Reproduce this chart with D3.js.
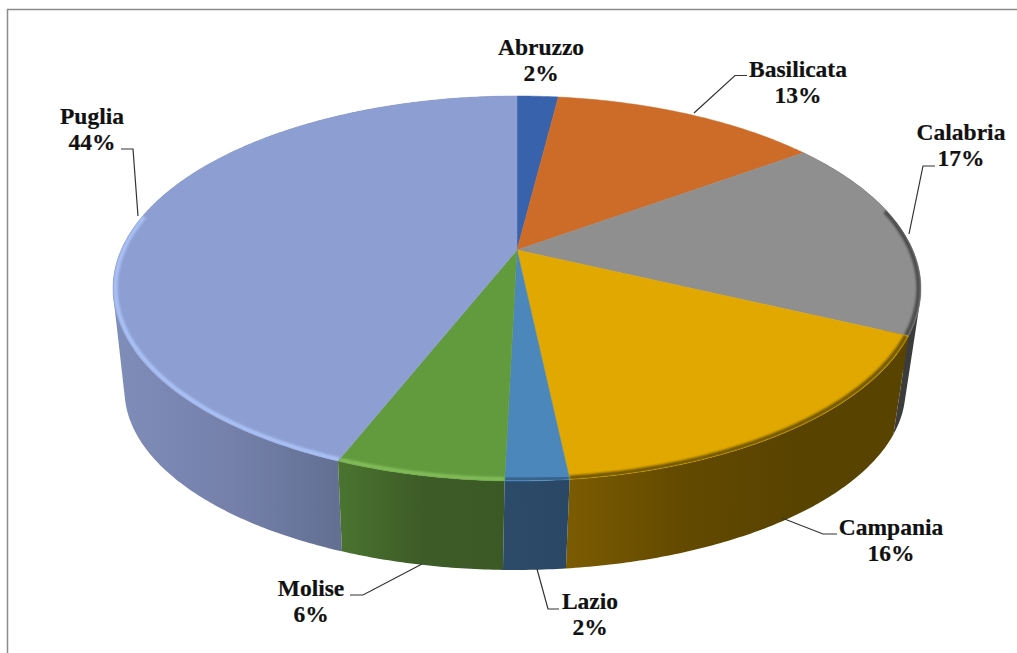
<!DOCTYPE html>
<html>
<head>
<meta charset="utf-8">
<script src="https://cdn.jsdelivr.net/npm/d3@7"></script>
<style>
  body { margin: 0; background: #fff; }
  text { font-family: "Liberation Serif", serif; font-weight: bold; font-size: 23.5px; fill: #111; stroke: #111; stroke-width: 0.2px; text-anchor: middle; }
</style>
</head>
<body>
<script>
//Chart values (labels round them to whole percents)
const regions = ["Abruzzo", "Basilicata", "Calabria", "Campania", "Lazio", "Molise", "Puglia"];
const shares = [2, 13, 17, 16.3, 2.1, 5.6, 44];

//Colours of the top face, the rim bevel and the side wall
const topColors = ["#3862ac", "#cd6c28", "#8f8f8f", "#e0a800", "#4c87bb", "#629a3e", "#8d9fd2"];
const bevelColors = [null, null, "#4a4a4a", "#6e5400", "#345f86", "#82bd58", "#abc2f7"];
const wallColors = [
    null,
    null,
    ["#454545", "#3a3a3a"],
    ["#7c5c02", "#634a00", "#584300", "#584300"],
    ["#2c4b68", "#2a4865"],
    ["#4b7430", "#3d5c27", "#3b5925"],
    ["#7f8db9", "#7581ab", "#626f92"]
];

//Where each label sits and the leader line that goes with it (null = no leader)
const labelPos = [[541, 55], [798, 77], [961, 140], [891, 535], [590, 609], [311, 596], [92, 124]];
const leaders = [
    null,
    [[694, 113], [735, 75.5], [747, 75.5]],
    [[909, 234], [923, 166], [935, 166]],
    [[782, 518], [823, 534], [837, 534]],
    [[537, 569], [548, 609], [559, 609]],
    [[422, 564], [363, 595], [350, 595]],
    [[138, 216], [133, 149], [121, 149]]
];

const width = 1017, height = 653, lineGap = 26;

//Perspective of the disc: k pulls the front edge towards the viewer
const k = 0.2;
const topFace = {cx: 517, cy: 250, a: 395.8, b: 184.8};
const bottomFace = {cx: 515, cy: 354, a: 382.6, b: 172.8};

//Project an angle on the disc (clockwise from 12 o'clock) to the page
function project(face, angle, r = 1) {
    const u = r * Math.sin(angle), v = -r * Math.cos(angle), d = 1 - k * v;
    return [face.cx + face.a * u / d, face.cy + face.b * v / d];
}

//Sample an arc so it can be drawn with d3.line
function arcPoints(face, a0, a1, r = 1) {
    const n = Math.max(2, Math.ceil(Math.abs(a1 - a0) / 0.01));
    return d3.range(n + 1).map(i => project(face, a0 + (a1 - a0) * i / n, r));
}

const line = d3.line();
const format = d3.format(".0f");

const pie = d3.pie().sort(null).value(d => d.share);
const slices = pie(regions.map((name, i) => ({name, share: shares[i], i})));

//Create the svg
const svg = d3.select("body")
    .append("svg")
    .attr("width", width)
    .attr("height", height)
    .attr("viewBox", [0, 0, width, height])
    .style("display", "block");

const defs = svg.append("defs");

defs.append("filter")
    .attr("id", "soft")
    .attr("x", "-5%").attr("y", "-5%").attr("width", "110%").attr("height", "110%")
    .append("feGaussianBlur")
    .attr("stdDeviation", 1.3);

//Frame (only top and left are inside the picture)
svg.append("path")
    .attr("d", `M${width},9.5H7.5V${height}`)
    .attr("fill", "none")
    .attr("stroke", "#8c8c8c")
    .attr("stroke-width", 1.5);

//Side walls, back to front
const wallOrder = [2, 6, 5, 3, 4];
const walls = svg.append("g");
wallOrder.forEach(idx => {
    const s = slices[idx];
    const topArc = arcPoints(topFace, s.startAngle, s.endAngle);
    const bottomArc = arcPoints(bottomFace, s.startAngle, s.endAngle);

    //Gradient only spans the part of the wall that faces the viewer
    const front = topArc.concat(bottomArc).filter(p => p[1] > topFace.cy + 30);
    const xExt = d3.extent(front, p => p[0]);

    const stops = wallColors[idx];
    const grad = defs.append("linearGradient")
        .attr("id", `wall${idx}`)
        .attr("gradientUnits", "userSpaceOnUse")
        .attr("x1", xExt[0]).attr("x2", xExt[1])
        .attr("y1", 0).attr("y2", 0);
    stops.forEach((c, j) => {
        grad.append("stop")
            .attr("offset", j / (stops.length - 1))
            .attr("stop-color", c);
    });

    //One path of small hulls, all wound the same way so overlaps don't punch holes
    const quads = d3.range(topArc.length - 1).map(i =>
        line(d3.polygonHull([topArc[i], topArc[i + 1], bottomArc[i + 1], bottomArc[i]])) + "Z");

    walls.append("path")
        .attr("d", quads.join(""))
        .attr("fill", `url(#wall${idx})`);
});

//Top face
const faces = svg.append("g");
slices.forEach((s, idx) => {
    const pts = [project(topFace, 0, 0)].concat(arcPoints(topFace, s.startAngle, s.endAngle));
    const d = line(pts) + "Z";

    faces.append("path")
        .attr("d", d)
        .attr("fill", topColors[idx])
        .attr("stroke", topColors[idx])
        .attr("stroke-width", 0.5);

    if (bevelColors[idx]) {
        defs.append("clipPath")
            .attr("id", `clip${idx}`)
            .append("path")
            .attr("d", d);

        //Puglia's bevel stops at the left-hand extreme of the disc
        const end = idx === 6 ? Math.min(s.endAngle, 4.9) : s.endAngle;
        const start = idx === 2 ? Math.max(s.startAngle, 1.35) : s.startAngle;

        faces.append("g")
            .attr("clip-path", `url(#clip${idx})`)
            .append("path")
            .attr("d", line(arcPoints(topFace, start, end, 0.994)))
            .attr("fill", "none")
            .attr("stroke", bevelColors[idx])
            .attr("stroke-width", 4)
            .attr("filter", "url(#soft)");
    }
});

//Leader lines
svg.append("g")
    .selectAll("path")
    .data(leaders.filter(d => d))
    .join("path")
    .attr("d", d => line(d))
    .attr("fill", "none")
    .attr("stroke", "#333")
    .attr("stroke-width", 1.2);

//Labels: region name and percent
const labels = svg.append("g")
    .selectAll("text")
    .data(slices)
    .join("text")
    .attr("x", (d, i) => labelPos[i][0])
    .attr("y", (d, i) => labelPos[i][1]);

labels.append("tspan")
    .text(d => d.data.name);

labels.append("tspan")
    .attr("x", (d, i) => labelPos[i][0])
    .attr("dy", lineGap)
    .text(d => format(d.data.share) + "%");
</script>
</body>
</html>
